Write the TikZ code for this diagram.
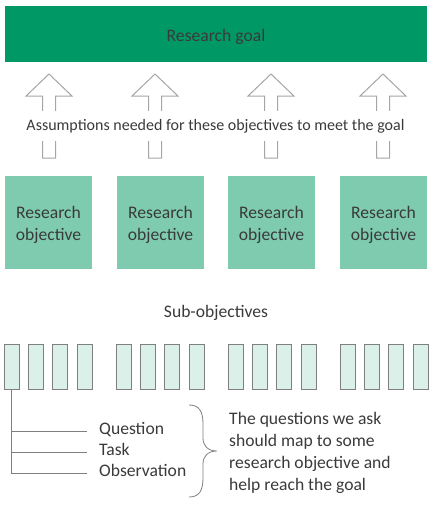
\documentclass[tikz,border=0pt]{standalone}
\usepackage{fontspec}
\setmainfont{Carlito}
\usepackage{tikz}
\definecolor{goalgreen}{HTML}{009966}
\definecolor{objgreen}{HTML}{7ECBB0}
\definecolor{subgreen}{HTML}{DAF0E8}
\definecolor{txtgrey}{HTML}{3A3A3A}
\definecolor{arrowgrey}{HTML}{A6A6A6}
\definecolor{linegrey}{HTML}{7F7F7F}

\begin{document}
\begin{tikzpicture}[x=1pt,y=-1pt,
  goalbox/.style={fill=goalgreen,minimum width=422pt,minimum height=56pt,inner sep=0pt,text=txtgrey,font=\fontsize{17.6}{21}\selectfont},
  objbox/.style={fill=objgreen,minimum width=87pt,minimum height=93pt,inner sep=0pt,align=center,text=txtgrey,font=\fontsize{17.6}{21.5}\selectfont},
  subbox/.style={draw=linegrey,fill=subgreen,minimum width=15pt,minimum height=45pt,inner sep=0pt},
  bigarrow/.style={draw=arrowgrey,line width=1pt,fill=white},
  plain/.style={text=txtgrey,font=\fontsize{17.6}{22}\selectfont},
  treeline/.style={draw=linegrey,line width=0.9pt}]
\useasboundingbox (0,0) rectangle (436,512);

\fill[goalgreen] (5,6) rectangle (427,62);
\node[text=txtgrey,font=\fontsize{17.6}{21}\selectfont] (goal) at (216,37) {Research goal};

\foreach \cx in {49,155,271,383}
  \draw[bigarrow] (\cx-6.5,158) -- (\cx-6.5,96) -- (\cx-23,96) -- (\cx,74) -- (\cx+23,96) -- (\cx+6.5,96) -- (\cx+6.5,158) -- cycle;

\node[fill=white,inner xsep=1pt,minimum height=30pt,text=txtgrey,font=\fontsize{16}{19}\selectfont] (assume) at (215.5,126) {Assumptions needed for these objectives to meet the goal};

\foreach \x [count=\i] in {48.5,160.5,271.5,383.5}
  \fill[objgreen] (\x-43.5,176) rectangle (\x+43.5,269);
\foreach \x [count=\i] in {48.5,160.5,271.5,383.5}
  \node[text=txtgrey,align=center,font=\fontsize{17.6}{21.5}\selectfont] (obj\i) at (\x,225) {Research\\objective};

\node[plain] (subs) at (216,313) {Sub-objectives};

\foreach \s [count=\g] in {4,116,228,340}
  \foreach \k in {1,...,4}
    \node[subbox] (sub-\g-\k) at (\s+7.5+24.3*\k-24.3,366.5) {};

\foreach \y/\n/\t in {431/q/Question,452/t/Task,473/o/Observation}
  \node[plain,anchor=west,inner sep=0pt,text height=0.85em,text depth=0.15em] (\n) at (99,\y) {\t};

\draw[treeline] (sub-1-1.south) |- ([xshift=-12pt]o.west);
\draw[treeline] (sub-1-1.south |- q.west) -- ([xshift=-12pt]q.west);
\draw[treeline] (sub-1-1.south |- t.west) -- ([xshift=-12pt]t.west);

\draw[linegrey,line width=0.8pt] (189,405) .. controls (199,405) and (203,411) .. (203,424) -- (203,438) .. controls (203,446) and (208,451) .. (217,451) .. controls (208,451) and (203,456) .. (203,464) -- (203,478) .. controls (203,491) and (199,497) .. (189,497);

\node[plain,anchor=north west,align=left,inner sep=0pt] (note) at (229,412) {The questions we ask\\should map to some\\research objective and\\help reach the goal};
\end{tikzpicture}
\end{document}
